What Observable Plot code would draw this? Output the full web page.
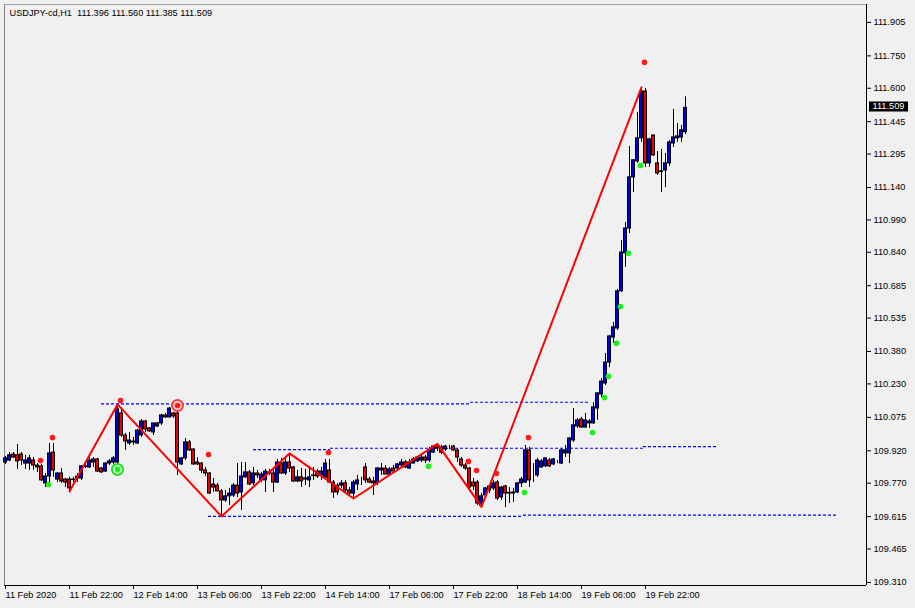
<!DOCTYPE html>
<html><head><meta charset="utf-8">
<script src="https://cdn.jsdelivr.net/npm/d3@7"></script>
<script src="https://cdn.jsdelivr.net/npm/@observablehq/plot@0.6"></script>
<style>
html,body{margin:0;padding:0;background:#f0f0f0;overflow:hidden;}
#chart{position:absolute;left:0;top:0;}
</style></head><body><div id="chart"></div>
<script>
const chartTitle = "USDJPY-cd,H1\u00a0 111.396 111.560 111.385 111.509";

// hourly bars from 11 Feb 2020 06:00 (index = bar number)
const open = [109.866,109.875,109.903,109.899,109.903,109.861,109.861,109.875,109.852,109.848,
109.769,109.801,109.912,109.787,109.815,109.787,109.787,109.785,109.792,109.792,
109.845,109.843,109.866,109.880,109.838,109.824,109.861,109.866,109.866,110.093,
109.991,109.954,109.959,109.954,109.991,110.056,110.024,110.005,110.033,110.047,
110.084,110.075,110.093,110.093,109.857,109.885,109.959,109.926,109.866,109.861,
109.829,109.815,109.764,109.759,109.732,109.690,109.709,109.713,109.759,109.727,
109.797,109.820,109.769,109.815,109.783,109.783,109.820,109.815,109.773,109.861,
109.815,109.866,109.843,109.778,109.797,109.787,109.783,109.806,109.824,109.806,
109.797,109.829,109.773,109.759,109.759,109.769,109.736,109.722,109.764,109.783,
109.843,109.787,109.778,109.769,109.829,109.838,109.810,109.838,109.838,109.852,
109.866,109.838,109.861,109.871,109.875,109.889,109.875,109.912,109.945,109.936,
109.926,109.936,109.940,109.922,109.880,109.852,109.838,109.773,109.773,109.664,
109.713,109.736,109.746,109.773,109.704,109.755,109.722,109.727,109.727,109.769,
109.773,109.922,109.806,109.806,109.843,109.848,109.875,109.857,109.871,109.861,
109.908,109.908,109.968,110.033,110.065,110.028,110.047,110.047,110.116,110.181,
110.232,110.329,110.445,110.487,110.659,110.835,110.950,111.187,111.261,111.368,
111.585,111.252,111.381,111.252,111.215,111.219,111.252,111.344,111.368,111.372,
111.396];
const high = [109.894,109.912,109.912,109.950,109.912,109.899,109.899,109.889,109.861,109.857,
109.815,109.954,109.954,109.820,109.838,109.792,109.797,109.797,109.815,109.852,
109.866,109.889,109.889,109.885,109.843,109.866,109.880,109.894,110.135,110.121,
110.001,110.005,109.982,110.019,110.065,110.061,110.028,110.047,110.051,110.089,
110.093,110.121,110.098,110.130,109.889,109.977,109.968,109.931,109.889,109.866,
109.843,109.820,109.792,109.769,109.741,109.736,109.746,109.769,109.861,109.866,
109.866,109.829,109.843,109.829,109.820,109.834,109.834,109.829,109.880,109.885,
109.889,109.908,109.848,109.829,109.838,109.834,109.848,109.843,109.834,109.843,
109.880,109.880,109.783,109.769,109.783,109.783,109.750,109.783,109.806,109.797,
109.861,109.797,109.797,109.843,109.861,109.852,109.843,109.852,109.861,109.880,
109.875,109.880,109.889,109.894,109.903,109.899,109.936,109.945,109.952,109.945,
109.945,109.945,109.945,109.931,109.889,109.861,109.843,109.792,109.783,109.722,
109.750,109.764,109.783,109.783,109.755,109.760,109.750,109.746,109.773,109.797,
109.945,109.936,109.861,109.885,109.880,109.889,109.885,109.885,109.875,109.931,
109.945,109.982,110.116,110.070,110.075,110.093,110.065,110.144,110.191,110.255,
110.371,110.455,110.515,110.668,110.895,110.978,111.330,111.270,111.488,111.604,
111.599,111.368,111.385,111.307,111.317,111.298,111.358,111.502,111.437,111.428,
111.560];
const low = [109.857,109.871,109.885,109.834,109.852,109.834,109.829,109.829,109.820,109.778,
109.750,109.750,109.797,109.773,109.769,109.750,109.732,109.773,109.773,109.783,
109.838,109.838,109.843,109.820,109.815,109.820,109.852,109.857,109.857,109.982,
109.922,109.945,109.945,109.950,109.982,110.005,110.005,109.991,110.028,110.038,
110.070,110.070,110.070,109.806,109.852,109.875,109.917,109.852,109.852,109.815,
109.801,109.718,109.727,109.732,109.616,109.681,109.667,109.704,109.704,109.644,
109.792,109.759,109.759,109.792,109.773,109.727,109.806,109.727,109.769,109.810,
109.806,109.820,109.773,109.773,109.750,109.759,109.750,109.783,109.792,109.783,
109.792,109.769,109.699,109.713,109.746,109.727,109.709,109.699,109.736,109.759,
109.769,109.769,109.713,109.759,109.806,109.810,109.806,109.820,109.834,109.843,
109.838,109.834,109.861,109.866,109.866,109.861,109.866,109.908,109.917,109.903,
109.917,109.926,109.917,109.866,109.843,109.829,109.736,109.736,109.667,109.660,
109.699,109.722,109.736,109.690,109.690,109.657,109.676,109.681,109.722,109.750,
109.769,109.750,109.773,109.797,109.838,109.843,109.843,109.852,109.861,109.857,
109.889,109.861,109.959,110.024,110.024,110.024,110.024,110.042,110.061,110.167,
110.223,110.306,110.418,110.478,110.654,110.770,110.927,111.117,111.252,111.349,
111.233,111.233,111.284,111.196,111.117,111.140,111.238,111.326,111.349,111.349,
111.385];
const close = [109.885,109.899,109.889,109.871,109.875,109.875,109.885,109.852,109.843,109.783,
109.801,109.908,109.829,109.815,109.778,109.773,109.746,109.787,109.801,109.848,
109.848,109.875,109.880,109.824,109.820,109.861,109.871,109.885,110.112,109.991,
109.963,109.968,109.963,110.014,110.056,110.019,110.010,110.047,110.047,110.084,
110.075,110.116,110.079,109.866,109.885,109.959,109.922,109.857,109.857,109.829,
109.815,109.722,109.750,109.732,109.690,109.709,109.722,109.759,109.722,109.801,
109.820,109.764,109.815,109.806,109.810,109.824,109.815,109.773,109.866,109.815,
109.866,109.838,109.778,109.797,109.778,109.792,109.797,109.804,109.801,109.824,
109.861,109.773,109.727,109.727,109.769,109.736,109.722,109.773,109.783,109.783,
109.783,109.773,109.769,109.838,109.838,109.810,109.834,109.824,109.857,109.866,
109.843,109.866,109.880,109.889,109.889,109.875,109.922,109.940,109.931,109.912,
109.940,109.936,109.922,109.889,109.852,109.838,109.750,109.755,109.676,109.709,
109.746,109.755,109.769,109.699,109.750,109.722,109.725,109.722,109.769,109.787,
109.922,109.783,109.806,109.875,109.871,109.885,109.848,109.880,109.871,109.922,
109.922,109.977,110.038,110.061,110.028,110.061,110.056,110.121,110.186,110.241,
110.329,110.450,110.492,110.659,110.839,110.950,111.187,111.266,111.368,111.585,
111.252,111.363,111.289,111.205,111.212,111.252,111.349,111.372,111.377,111.405,
111.509];

// ZigZag turning bars and whether each is a swing low or high
const zigzagBars = [16, 28, 54, 71, 87, 108, 119, 159];
const zigzagKind = ["low","high","low","high","low","high","low","high"];

// horizontal dashed levels: start bar, end bar, price
const levelStart = [24, 116.25, 62, 81.25, 159.5, 50.75, 129.5];
const levelEnd   = [116.25, 146.25, 81.25, 159.5, 178, 129.5, 207.75];
const levelPrice = [110.138, 110.145, 109.926, 109.932, 109.939, 109.616, 109.622];

// signal dots
const redDotBars  = [9, 12, 29, 51, 81, 116, 118, 123, 131, 160];
const redDotPrice = [109.875, 109.982, 110.153, 109.903, 109.912, 109.871, 109.829, 109.815, 109.982, 111.720];
const greenDotBars  = [11, 106, 130, 147, 150, 151, 153, 154, 156, 159];
const greenDotPrice = [109.764, 109.848, 109.727, 110.005, 110.167, 110.265, 110.418, 110.589, 110.835, 111.242];
const redRingBar = [43], redRingPrice = [110.130];
const greenRingBar = [28], greenRingPrice = [109.834];

// axes
const yTickLabels = ["111.905","111.750","111.600","111.445","111.295","111.140","110.990","110.840","110.685",
"110.535","110.380","110.230","110.075","109.920","109.770","109.615","109.465","109.310"];
const yTickValues = yTickLabels.map(Number);
const xTickBars = [0, 16, 32, 48, 64, 80, 96, 112, 128, 144, 160];
const xTickLabels = ["11 Feb 2020","11 Feb 22:00","12 Feb 14:00","13 Feb 06:00","13 Feb 22:00","14 Feb 14:00",
"17 Feb 06:00","17 Feb 22:00","18 Feb 14:00","19 Feb 06:00","19 Feb 22:00"];

const xDomain = [-0.25, 215.25];
const yDomain = [109.296, 111.988];

const bars = open.map((o, i) => ({i, o, h: high[i], l: low[i], c: close[i], up: close[i] >= o}));
const zigzag = zigzagBars.map((b, k) => ({i: b, p: zigzagKind[k] === "low" ? low[b] : high[b]}));
const levels = levelStart.map((a, k) => ({a, b: levelEnd[k], p: levelPrice[k]}));
const redDots = redDotBars.map((i, k) => ({i, p: redDotPrice[k]}));
const greenDots = greenDotBars.map((i, k) => ({i, p: greenDotPrice[k]}));
const redRing = redRingBar.map((i, k) => ({i, p: redRingPrice[k]}));
const greenRing = greenRingBar.map((i, k) => ({i, p: greenRingPrice[k]}));
const lastClose = close[close.length - 1];

const plot = Plot.plot({
  width: 915, height: 608,
  marginLeft: 4, marginRight: 49, marginTop: 4, marginBottom: 23,
  style: {background: "#f0f0f0", fontFamily: "'Liberation Sans', Arial, sans-serif", fontSize: "9.2px", color: "black"},
  x: {domain: xDomain, label: null},
  y: {domain: yDomain, label: null},
  marks: [
    Plot.ruleY([yDomain[1]], {stroke: "#a0a0a0"}),
    Plot.ruleX([xDomain[0]], {stroke: "#808080"}),
    Plot.ruleX([xDomain[1]], {stroke: "black"}),
    Plot.ruleY([yDomain[0]], {stroke: "black"}),
    Plot.ruleY(levels, {y: "p", x1: "a", x2: "b", stroke: "#0000ff", strokeWidth: 1.2, strokeDasharray: "3,2"}),
    Plot.ruleX(bars, {x: "i", y1: "l", y2: "h", stroke: "black"}),
    Plot.rect(bars, {x1: d => d.i - 0.375, x2: d => d.i + 0.375, y1: "o", y2: "c",
      fill: d => d.up ? "#0000e6" : "#e60000", stroke: "black", strokeWidth: 1}),
    Plot.line(zigzag, {x: "i", y: "p", stroke: "#ff0000", strokeWidth: 2}),
    Plot.dot(redDots, {x: "i", y: "p", r: 2.8, fill: "#ff1a1a", dx: -1}),
    Plot.dot(greenDots, {x: "i", y: "p", r: 2.8, fill: "#19f019", dx: -1}),
    Plot.dot(redRing, {x: "i", y: "p", r: 5.5, fill: "#f7dada", stroke: "#ff3b3b", strokeWidth: 2}),
    Plot.dot(redRing, {x: "i", y: "p", r: 2.8, fill: "#ff1a1a"}),
    Plot.dot(greenRing, {x: "i", y: "p", r: 5.5, fill: "#d8f5d8", stroke: "#22e022", strokeWidth: 2}),
    Plot.dot(greenRing, {x: "i", y: "p", r: 2.8, fill: "#19f019"}),
    Plot.text([chartTitle], {frameAnchor: "top-left", dx: 5, dy: 5, text: d => d, textAnchor: "start", lineAnchor: "top", fill: "black"}),
    Plot.ruleY([lastClose], {x1: xDomain[1] + 0.75, x2: xDomain[1] + 10.5, stroke: "black", strokeWidth: 10, dy: -1.5}),
    Plot.text([lastClose], {y: d => d, frameAnchor: "right", dx: 6, dy: -1.5, text: d => d.toFixed(3), fill: "white", textAnchor: "start"}),
    Plot.axisY({anchor: "right", ticks: yTickValues, tickFormat: d => yTickLabels[yTickValues.indexOf(d)], tickSize: 4, tickPadding: 3, label: null}),
    Plot.axisX({anchor: "bottom", ticks: xTickBars, tickFormat: d => xTickLabels[xTickBars.indexOf(d)], tickSize: 4, tickPadding: 2, textAnchor: "start", label: null})
  ]
});
document.getElementById("chart").append(plot);
</script>
</body></html>
